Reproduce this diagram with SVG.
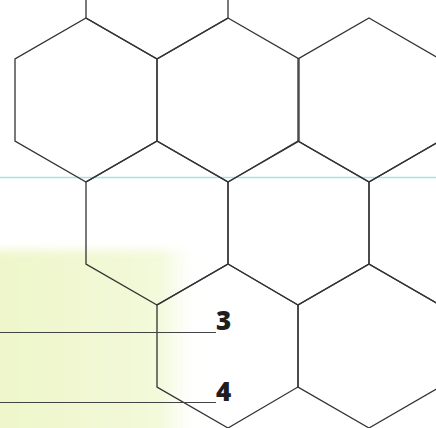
<svg xmlns="http://www.w3.org/2000/svg" width="436" height="428" viewBox="0 0 436 428">
<defs>
<linearGradient id="gh" x1="0" y1="0" x2="1" y2="0">
<stop offset="0" stop-color="#eef6c8"/>
<stop offset="0.82" stop-color="#f3f9da"/>
<stop offset="1" stop-color="#ffffff" stop-opacity="0"/>
</linearGradient>
<filter id="blur" x="-20%" y="-20%" width="140%" height="140%"><feGaussianBlur stdDeviation="5"/></filter>
<style>
.hex{fill:none;stroke:#333;stroke-width:1.3;stroke-linejoin:miter}
.lead{stroke:#444;stroke-width:1.2}
.lbl{font-family:"Open Sans","DejaVu Sans",sans-serif;font-weight:800;font-size:26px;fill:#1e1e1e}
</style>
</defs>
<rect width="436" height="428" fill="#ffffff"/>
<rect x="-20" y="250" width="222" height="200" fill="url(#gh)" filter="url(#blur)"/>
<line x1="0" y1="177.5" x2="436" y2="177.5" stroke="#a4e6de" stroke-width="1.3"/>
<g id="hex-r0-1"><polygon class="hex" points="157,-105 228,-64 228,18 157,59 86,18 86,-64"/></g>
<g id="hex-r1-1"><polygon class="hex" points="86,18 157,59 157,141 86,182 15,141 15,59"/></g>
<g id="hex-r1-2"><polygon class="hex" points="228,18 299,59 299,141 228,182 157,141 157,59"/></g>
<g id="hex-r1-3"><polygon class="hex" points="369,18 440,59 440,141 369,182 298,141 298,59"/></g>
<g id="hex-r2-1"><polygon class="hex" points="157,141 228,182 228,264 157,305 86,264 86,182"/></g>
<g id="hex-r2-2"><polygon class="hex" points="298,141 369,182 369,264 298,305 228,264 228,182"/></g>
<g id="hex-r2-3"><polygon class="hex" points="440,141 511,182 511,264 440,305 369,264 369,182"/></g>
<g id="hex-r3-2"><polygon class="hex" points="228,264 298,305 298,387 228,428 157,387 157,305"/></g>
<g id="hex-r3-3"><polygon class="hex" points="369,264 440,305 440,387 369,428 298,387 298,305"/></g>
<g id="connectors">
<line class="lead" x1="0" y1="332.5" x2="216" y2="332.5"/>
<line class="lead" x1="0" y1="402.5" x2="216" y2="402.5"/>
</g>
<g id="label-3"><text class="lbl" x="216" y="330">3</text></g>
<g id="label-4"><text class="lbl" x="216" y="401">4</text></g>
</svg>
